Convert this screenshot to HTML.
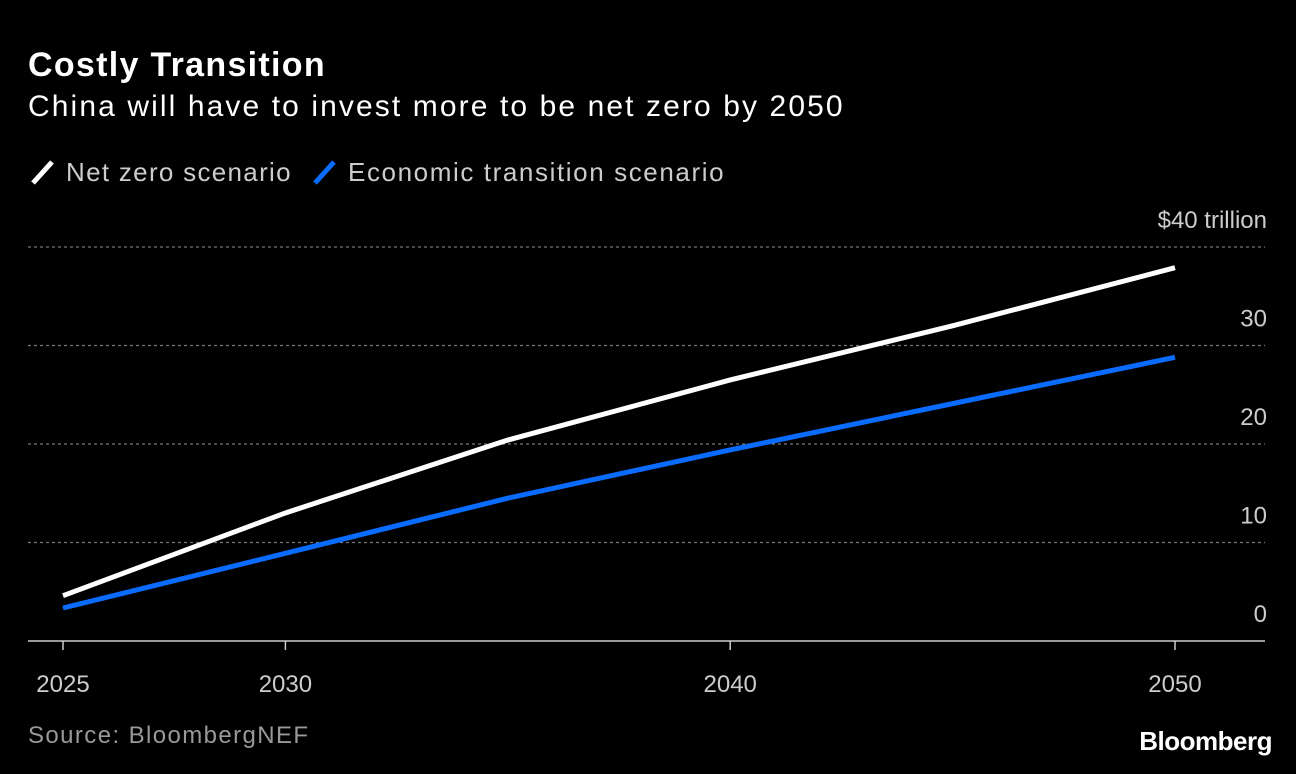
<!DOCTYPE html>
<html><head><meta charset="utf-8"><style>
body{margin:0;background:#000;width:1296px;height:774px;overflow:hidden;font-family:"Liberation Sans",sans-serif;}
svg{display:block}
</style></head><body>
<svg width="1296" height="774">
<text x="28" y="76" fill="#fff" font-size="34" font-weight="bold" letter-spacing="1.3">Costly Transition</text>
<text x="28" y="116" fill="#fff" font-size="30" letter-spacing="2.1">China will have to invest more to be net zero by 2050</text>
<g>
<line x1="33" y1="183" x2="52" y2="162" stroke="#fff" stroke-width="5"/>
<text x="66" y="181" fill="#ccc" font-size="26" letter-spacing="1.3">Net zero scenario</text>
<line x1="315" y1="183" x2="334" y2="162" stroke="#0a6cff" stroke-width="5"/>
<text x="348" y="181" fill="#ccc" font-size="26" letter-spacing="1.6">Economic transition scenario</text>
</g>
<g id="grid"></g><g id="series"></g><g id="axes"></g>
<text x="28" y="743" fill="#999" font-size="24" letter-spacing="1.4">Source: BloombergNEF</text>
<text x="1272" y="750" fill="#fff" font-size="26" font-weight="bold" text-anchor="end" letter-spacing="-0.5">Bloomberg</text>
</svg>
<script>
const years=[2025,2030,2035,2040,2045,2050];
const netZero=[4.6,13.0,20.4,26.5,32.0,37.9];
const economic=[3.35,8.9,14.5,19.4,24.1,28.8];
const yTicks=[0,10,20,30,40];
const yTickLabels=["0","10","20","30","$40 trillion"];
const xTicks=[2025,2030,2040,2050];
const NS="http://www.w3.org/2000/svg";
const x=v=>63+(v-2025)*(1175-63)/25;
const y=v=>641-v*(641-247)/40;
function mk(t,a,p){const e=document.createElementNS(NS,t);for(const k in a)e.setAttribute(k,a[k]);p.appendChild(e);return e;}
const grid=document.getElementById('grid'),axes=document.getElementById('axes'),ser=document.getElementById('series');
yTicks.forEach((v,i)=>{
 if(v>0){const l=mk('line',{x1:28,x2:1265,y1:y(v),y2:y(v),stroke:'#777','stroke-width':1.3,'stroke-dasharray':'3,3'},grid);
 
 }
 const t=mk('text',{x:1267,y:y(v)-19,fill:'#ccc','font-size':24,'text-anchor':'end'},axes);t.textContent=yTickLabels[i];
 
 
});
const ax=mk('line',{x1:28,x2:1265,y1:641,y2:641,stroke:'#ccc','stroke-width':1.5},axes);


xTicks.forEach(v=>{
 const tk=mk('line',{x1:x(v),x2:x(v),y1:641,y2:650,stroke:'#ccc','stroke-width':1.5},axes);
 
 
 const t=mk('text',{x:x(v),y:692,fill:'#ccc','font-size':24,'text-anchor':'middle'},axes);t.textContent=v;
 
 
});
function line(vals,col,name){
 const p=mk('polyline',{points:years.map((yr,i)=>x(yr)+','+y(vals[i])).join(' '),fill:'none',stroke:col,'stroke-width':5},ser);
 
 
}
line(economic,'#0a6cff','line-economic-transition');
line(netZero,'#fff','line-net-zero');
</script>
</body></html>
